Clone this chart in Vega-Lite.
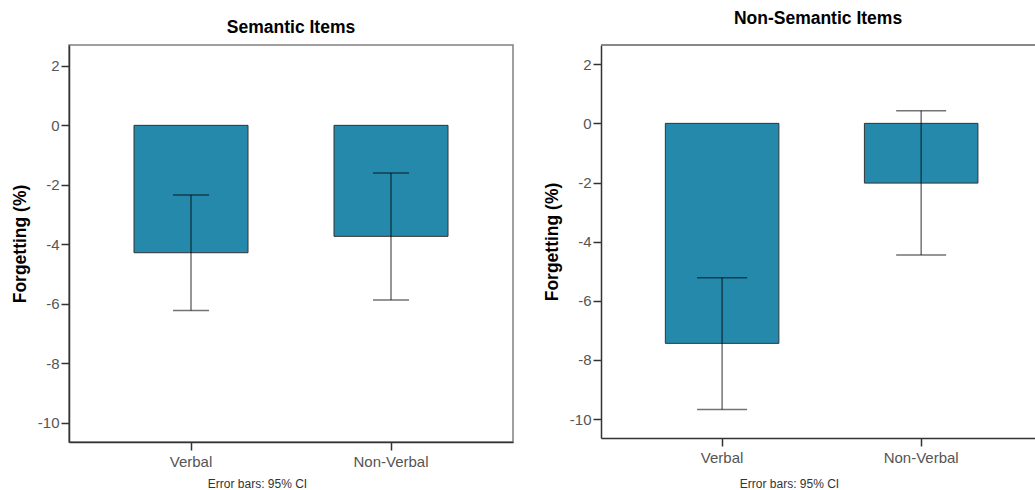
{
  "$schema": "https://vega.github.io/schema/vega-lite/v6.json",
  "background": "white",
  "padding": {"left": 10, "top": 9, "right": 0, "bottom": 0},
  "spacing": 29,
  "datasets": {
    "semantic": [
      {"modality": "Verbal", "mean": -4.28, "lo": -6.22, "hi": -2.34},
      {"modality": "Non-Verbal", "mean": -3.73, "lo": -5.87, "hi": -1.60}
    ],
    "nonsemantic": [
      {"modality": "Verbal", "mean": -7.44, "lo": -9.68, "hi": -5.22},
      {"modality": "Non-Verbal", "mean": -2.02, "lo": -4.45, "hi": 0.43}
    ]
  },
  "config": {
    "font": "Liberation Sans",
    "view": {"stroke": "#808080", "strokeWidth": 1.5},
    "title": {"fontSize": 17.5, "fontWeight": "bold", "color": "black", "anchor": "middle", "baseline": "alphabetic"},
    "axis": {
      "grid": false,
      "domainColor": "#333",
      "domainWidth": 1.5,
      "tickColor": "#333",
      "tickWidth": 1.5,
      "tickSize": 8,
      "labelColor": "#555",
      "labelFontSize": 15
    },
    "axisY": {
      "labelPadding": 2,
      "titleFontSize": 17.5,
      "titleFontWeight": "bold",
      "titleColor": "black",
      "titlePadding": 8
    },
    "axisX": {
      "labelAngle": 0,
      "labelPadding": 4,
      "titleFontSize": 12,
      "titleFontWeight": "normal",
      "titleColor": "#333",
      "titleX": 188,
      "titleAlign": "center",
      "titleBaseline": "alphabetic"
    }
  },
  "hconcat": [
    {
      "title": {"text": "Semantic Items", "offset": 9},
      "width": 444,
      "height": 397,
      "data": {"name": "semantic"},
      "encoding": {
        "x": {
          "field": "modality",
          "type": "nominal",
          "sort": ["Verbal", "Non-Verbal"],
          "scale": {"paddingInner": 0.43, "paddingOuter": 0.325, "align": 0.5},
          "axis": {"title": "Error bars: 95% CI", "titleY": 45.5}
        }
      },
      "layer": [
        {
          "mark": {"type": "bar", "fill": "#2589ab", "stroke": "#333", "strokeWidth": 1},
          "encoding": {
            "y": {
              "field": "mean",
              "type": "quantitative",
              "scale": {"domain": [-10.64, 2.7], "nice": false, "zero": false},
              "axis": {
                "title": "Forgetting (%)",
                "values": [2, 0, -2, -4, -6, -8, -10],
                "labelExpr": "(datum.value < 0 ? '-' : '') + abs(datum.value)"
              }
            },
            "y2": {"datum": 0}
          }
        },
        {
          "mark": {"type": "rule", "color": "black", "opacity": 0.55, "strokeWidth": 1.5},
          "encoding": {"y": {"field": "lo", "type": "quantitative"}, "y2": {"field": "hi"}}
        },
        {
          "mark": {"type": "tick", "color": "black", "opacity": 0.55, "thickness": 1.5, "size": 36},
          "encoding": {"y": {"field": "lo", "type": "quantitative"}}
        },
        {
          "mark": {"type": "tick", "color": "black", "opacity": 0.55, "thickness": 1.5, "size": 36},
          "encoding": {"y": {"field": "hi", "type": "quantitative"}}
        }
      ]
    },
    {
      "title": {"text": "Non-Semantic Items", "offset": 17},
      "width": 434,
      "height": 393,
      "view": {"stroke": null},
      "data": {"name": "nonsemantic"},
      "layer": [
        {
          "mark": {"type": "bar", "fill": "#2589ab", "stroke": "#333", "strokeWidth": 1},
          "encoding": {
            "x": {
              "field": "modality",
              "type": "nominal",
              "sort": ["Verbal", "Non-Verbal"],
              "scale": {"paddingInner": 0.4296, "paddingOuter": 0.305, "align": 0.53},
              "axis": {"title": "Error bars: 95% CI", "titleY": 49}
            },
            "y": {
              "field": "mean",
              "type": "quantitative",
              "scale": {"domain": [-10.64, 2.65], "nice": false, "zero": false},
              "axis": {
                "title": "Forgetting (%)",
                "values": [2, 0, -2, -4, -6, -8, -10],
                "labelExpr": "(datum.value < 0 ? '-' : '') + abs(datum.value)"
              }
            },
            "y2": {"datum": 0}
          }
        },
        {
          "mark": {"type": "rule", "color": "#808080", "strokeWidth": 1.5},
          "encoding": {"y": {"datum": 2.65}}
        },
        {
          "mark": {"type": "rule", "color": "black", "opacity": 0.55, "strokeWidth": 1.5},
          "encoding": {
            "x": {"field": "modality", "type": "nominal", "sort": ["Verbal", "Non-Verbal"]},
            "y": {"field": "lo", "type": "quantitative"},
            "y2": {"field": "hi"}
          }
        },
        {
          "mark": {"type": "tick", "color": "black", "opacity": 0.55, "thickness": 1.5, "size": 50},
          "encoding": {
            "x": {"field": "modality", "type": "nominal", "sort": ["Verbal", "Non-Verbal"]},
            "y": {"field": "lo", "type": "quantitative"}
          }
        },
        {
          "mark": {"type": "tick", "color": "black", "opacity": 0.55, "thickness": 1.5, "size": 50},
          "encoding": {
            "x": {"field": "modality", "type": "nominal", "sort": ["Verbal", "Non-Verbal"]},
            "y": {"field": "hi", "type": "quantitative"}
          }
        }
      ]
    }
  ]
}
